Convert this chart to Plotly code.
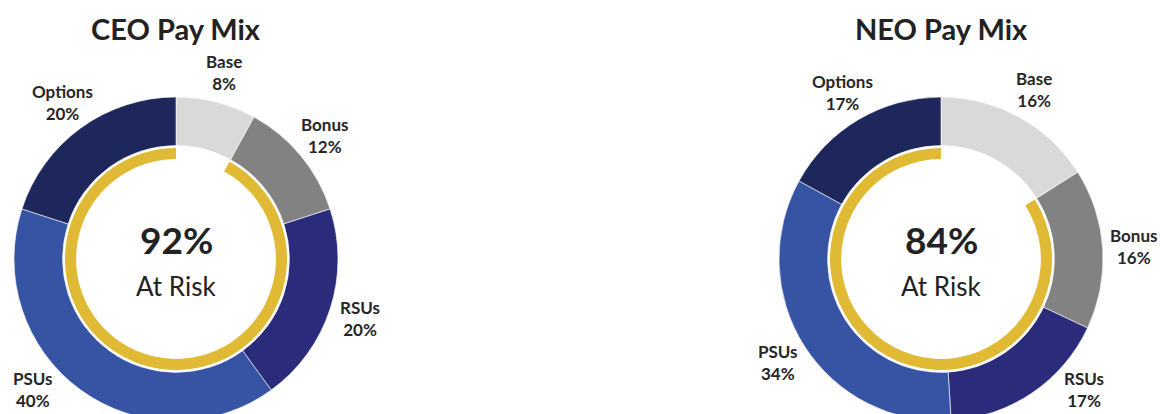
import math
import plotly.graph_objects as go

# Data
categories = ["Base", "Bonus", "RSUs", "PSUs", "Options"]
ceo_values = [8, 12, 20, 40, 20]
neo_values = [16, 16, 17, 34, 17]
ceo_at_risk = 92
neo_at_risk = 84
titles = ["CEO Pay Mix", "NEO Pay Mix"]

colors = ["#d9d9d7", "#828282", "#2b2b7b", "#3753a4", "#1e275b"]
yellow = "#e0b935"
text_color = "#262626"

W, H = 1160, 430
centers_x = [176, 941]
center_y = 259  # from top
R_OUT, R_YEL = 162, 111
R_LABEL = 193
LABEL_MAX_Y = 389


def dom(cx, cy, r):
    return dict(x=[(cx - r) / W, (cx + r) / W],
                y=[(H - cy - r) / H, (H - cy + r) / H])


fig = go.Figure()
for cx, vals, risk, title in zip(centers_x, [ceo_values, neo_values],
                                 [ceo_at_risk, neo_at_risk], titles):
    fig.add_trace(go.Pie(
        labels=categories, values=vals, sort=False, direction="clockwise",
        rotation=0, hole=0.70, domain=dom(cx, center_y, R_OUT),
        marker=dict(colors=colors, line=dict(color="white", width=0.6)),
        textinfo="none",
        showlegend=False, hoverinfo="label+value",
    ))
    base = vals[0]
    fig.add_trace(go.Pie(
        labels=["At Risk", "Fixed"], values=[risk, 100 - risk], sort=False,
        direction="clockwise", rotation=base * 3.6, hole=0.90,
        domain=dom(cx, center_y, R_YEL),
        marker=dict(colors=[yellow, "rgba(0,0,0,0)"], line=dict(width=0)),
        textinfo="none", showlegend=False, hoverinfo="label+value",
    ))

    # slice labels placed radially outside, at each slice's mid angle
    total = sum(vals)
    cum = 0
    for lab, v in zip(categories, vals):
        mid = (cum + v / 2) / total * 2 * math.pi
        cum += v
        dx = R_LABEL * math.sin(mid)
        dy = -R_LABEL * math.cos(mid)
        if center_y + dy > LABEL_MAX_Y:
            dy = LABEL_MAX_Y - center_y
            dx = math.copysign(math.sqrt(R_LABEL ** 2 - dy ** 2), dx)
        px, py = cx + dx, center_y + dy
        fig.add_annotation(x=px / W, y=1 - py / H, xref="paper", yref="paper",
                           xanchor="center", yanchor="middle",
                           text=f"<b>{lab}</b><br><b>{v}%</b>", showarrow=False,
                           font=dict(family="Lato", size=17, color=text_color))

    fig.add_annotation(x=cx / W, y=1 - 28 / H, xref="paper", yref="paper",
                       xanchor="center", yanchor="middle",
                       text=f"<b>{title}</b>", showarrow=False,
                       font=dict(family="Lato", size=29, color="#222222"))
    fig.add_annotation(x=cx / W, y=1 - 239 / H, xref="paper", yref="paper",
                       xanchor="center", yanchor="middle",
                       text=f"<b>{risk}%</b>", showarrow=False,
                       font=dict(family="Lato", size=37, color="#222222"))
    fig.add_annotation(x=cx / W, y=1 - 286 / H, xref="paper", yref="paper",
                       xanchor="center", yanchor="middle",
                       text="At Risk", showarrow=False,
                       font=dict(family="Lato", size=26, color="#222222"))

fig.update_layout(width=W, height=H, margin=dict(l=0, r=0, t=0, b=0),
                  paper_bgcolor="white", plot_bgcolor="white")

fig.write_html("out.html",
               post_script="document.documentElement.style.overflow='hidden';"
                           "document.body.style.overflow='hidden';"
                           "document.body.style.margin='0';")
